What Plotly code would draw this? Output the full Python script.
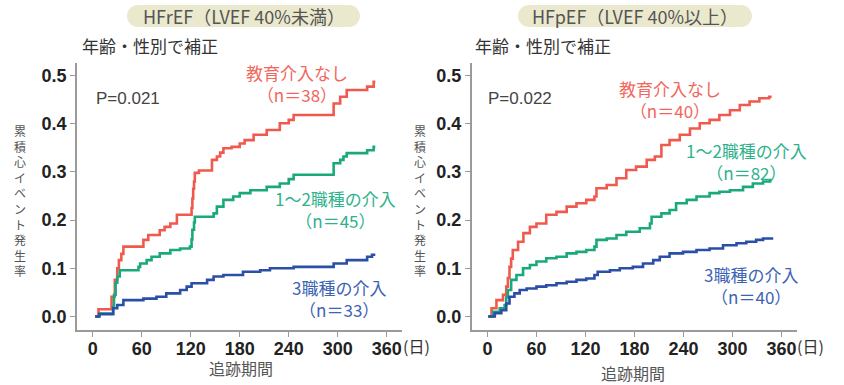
import plotly.graph_objects as go

W, H = 844, 385

# ---- data: cumulative cardiac event rate (adjusted for age and sex) ----
groups = ["教育介入なし", "1～2職種の介入", "3職種の介入"]
colors = ["#f05a4e", "#1aa97c", "#2b4fa6"]
text_colors = ["#f2675c", "#2fb28c", "#3d63b5"]

# HFrEF (LVEF < 40%)
hfref_n = [38, 45, 33]
hfref_p = "P=0.021"
hfref_none_days = [3, 7, 23, 27, 30, 32, 35, 37.5, 62, 68, 82, 88, 95, 103, 121, 122, 123, 124, 125, 130,
                   146, 152, 156, 160, 170, 180, 186, 197, 213, 229, 240, 246, 295, 303, 311, 336, 344, 346]
hfref_none_vals = [0, 0.015, 0.041, 0.076, 0.100, 0.117, 0.130, 0.145, 0.159, 0.169, 0.179, 0.186, 0.193,
                   0.211, 0.225, 0.245, 0.265, 0.280, 0.298, 0.303, 0.325, 0.332, 0.340, 0.349, 0.352,
                   0.359, 0.366, 0.377, 0.387, 0.401, 0.408, 0.418, 0.442, 0.456, 0.470, 0.477, 0.487, 0.487]
hfref_12_days = [3, 8, 25, 26, 28, 30, 33, 56, 58, 66, 72, 82, 95, 107, 119, 121, 122, 124, 125, 148, 152,
                 160, 172, 180, 193, 213, 229, 240, 246, 295, 303, 307, 311, 336, 344, 346]
hfref_12_vals = [0, 0.006, 0.020, 0.045, 0.070, 0.083, 0.096, 0.103, 0.110, 0.117, 0.124, 0.131, 0.138,
                 0.141, 0.145, 0.160, 0.180, 0.195, 0.207, 0.214, 0.228, 0.242, 0.249, 0.256, 0.262,
                 0.269, 0.276, 0.285, 0.294, 0.318, 0.325, 0.332, 0.339, 0.345, 0.352, 0.352]
hfref_3_days = [3, 8, 25, 30, 37.5, 62, 78, 90, 107, 115, 121, 140, 148, 160, 184, 205, 217, 246, 295, 311,
                336, 342, 346]
hfref_3_vals = [0, 0.005, 0.017, 0.024, 0.034, 0.037, 0.041, 0.048, 0.055, 0.062, 0.069, 0.076, 0.083,
                0.086, 0.093, 0.096, 0.100, 0.103, 0.110, 0.117, 0.124, 0.128, 0.128]

# HFpEF (LVEF >= 40%)
hfpef_n = [40, 82, 40]
hfpef_p = "P=0.022"
hfpef_none_days = [1, 5, 11, 19, 23, 25, 27, 29, 31, 37.5, 44, 52, 60, 72, 84.5, 97, 109, 121, 131, 133.5,
                   146, 158, 170, 182, 195, 205, 213, 223, 235.5, 248, 260, 272, 284, 297, 309, 321, 333,
                   345, 348]
hfpef_none_vals = [0, 0.017, 0.034, 0.045, 0.062, 0.080, 0.103, 0.120, 0.138, 0.155, 0.173, 0.186, 0.193,
                   0.211, 0.217, 0.228, 0.235, 0.242, 0.249, 0.266, 0.273, 0.287, 0.304, 0.311, 0.325,
                   0.332, 0.356, 0.366, 0.377, 0.390, 0.401, 0.408, 0.418, 0.428, 0.439, 0.446, 0.453,
                   0.456, 0.456]
hfpef_12_days = [1, 7, 15, 21, 23, 25, 29, 35.5, 43.6, 52, 60, 72, 84.5, 97, 109, 121, 131, 133.5, 146, 158,
                 170, 186.5, 199, 201, 213, 223, 231, 244, 256, 272, 284, 297, 313, 325, 337.5, 346, 348]
hfpef_12_vals = [0, 0.010, 0.017, 0.024, 0.040, 0.055, 0.076, 0.086, 0.100, 0.107, 0.114, 0.121, 0.124,
                 0.131, 0.134, 0.138, 0.145, 0.159, 0.162, 0.169, 0.176, 0.183, 0.193, 0.207, 0.214,
                 0.221, 0.235, 0.242, 0.249, 0.256, 0.259, 0.262, 0.269, 0.276, 0.280, 0.283, 0.283]
hfpef_3_days = [1, 9, 17, 23, 27, 33, 39.5, 48, 60, 72, 84.5, 97, 109, 121, 131, 135, 150, 162, 178, 190.5,
                203, 211, 223, 239.5, 256, 272, 288.5, 305, 317, 329, 337.5, 350]
hfpef_3_vals = [0, 0.007, 0.013, 0.027, 0.041, 0.048, 0.055, 0.058, 0.062, 0.065, 0.069, 0.072, 0.076,
                0.079, 0.086, 0.093, 0.096, 0.100, 0.103, 0.110, 0.117, 0.124, 0.131, 0.134, 0.138,
                0.141, 0.148, 0.152, 0.155, 0.159, 0.162, 0.162]

panel_titles = ["HFrEF（LVEF 40%未満）", "HFpEF（LVEF 40%以上）"]
subtitle = "年齢・性別で補正"
x_title = "追跡期間"
y_title = "累積心イベント発生率"
x_unit = "(日)"
x_ticks = [0, 60, 120, 180, 240, 300, 360]
y_ticks = [0.0, 0.1, 0.2, 0.3, 0.4, 0.5]

panels = [
    dict(series=[(hfref_none_days, hfref_none_vals), (hfref_12_days, hfref_12_vals), (hfref_3_days, hfref_3_vals)],
         n=hfref_n, p=hfref_p),
    dict(series=[(hfpef_none_days, hfpef_none_vals), (hfpef_12_days, hfpef_12_vals), (hfpef_3_days, hfpef_3_vals)],
         n=hfpef_n, p=hfpef_p),
]

# ---- layout helpers (pixel -> paper) ----
def px(x):
    return x / W

def py(y):
    return 1 - y / H

CJK = "Noto Sans CJK JP, Noto Sans, sans-serif"
NUM = "Liberation Sans Narrow, Arial Narrow, Liberation Sans, sans-serif"

panel_px = [(77, 402), (471.7, 796.7)]     # plot area left/right edges in px
plot_top, plot_bottom = 63, 330
# per-panel centre of each two-line group label (px)
label_pos = [
    [(297, 84), (335, 210), (339, 298)],
    [(670, 100), (746, 162), (751, 285)],
]
pill_px = [(127, 360), (518, 752)]
subtitle_px = [150, 543]
p_px = [128, 520]
ytitle_px = [(20, 201), (420, 201)]
xtitle_px = [(241, 368), (633, 373)]
unit_px = [401, 795]

fig = go.Figure()
shapes, annotations = [], []

for i, panel in enumerate(panels):
    sfx = "" if i == 0 else str(i + 1)
    xa, ya = "x" + sfx, "y" + sfx
    for k, (days, vals) in enumerate(panel["series"]):
        fig.add_trace(go.Scatter(
            x=days, y=vals, mode="lines", line=dict(color=colors[k], width=2.6, shape="hv"),
            xaxis=xa, yaxis=ya, showlegend=False, hoverinfo="skip"))

    x0, x1 = panel_px[i]
    axis_common = dict(showgrid=False, zeroline=False, showline=True, linecolor="#9a9a9a", linewidth=1.6,
                       ticks="outside", ticklen=5, tickwidth=1, tickcolor="#9a9a9a")
    tick_font = dict(family=NUM, size=18, color="#222", weight="bold")
    fig.update_layout(**{
        "xaxis" + sfx: dict(domain=[px(x0), px(x1)], range=[-19.3, 378.7], anchor=ya,
                            tickvals=x_ticks, ticktext=[str(t) for t in x_ticks],
                            tickfont=tick_font, ticklabelstandoff=-3, **axis_common),
        "yaxis" + sfx: dict(domain=[py(plot_bottom), py(plot_top)], range=[-0.028, 0.526], anchor=xa,
                            tickvals=y_ticks, ticktext=[f"{t:.1f}" for t in y_ticks],
                            tickfont=tick_font, **axis_common),
    })

    # title pill
    a, b = pill_px[i]
    top, bot = 5, 27
    r = (bot - top) / 2
    pill_fill = "#ebe9cd"
    shapes.append(dict(type="rect", xref="paper", yref="paper", x0=px(a + r), x1=px(b - r),
                       y0=py(bot), y1=py(top), fillcolor=pill_fill, line=dict(width=0), layer="below"))
    for cx in (a + r, b - r):
        shapes.append(dict(type="circle", xref="paper", yref="paper", x0=px(cx - r), x1=px(cx + r),
                           y0=py(bot), y1=py(top), fillcolor=pill_fill, line=dict(width=0), layer="below"))
    annotations.append(dict(text=panel_titles[i], xref="paper", yref="paper", x=px((a + b) / 2), y=py(16.5),
                            showarrow=False, xanchor="center", yanchor="middle",
                            font=dict(family=CJK, size=18, color="#555")))
    annotations.append(dict(text=subtitle, xref="paper", yref="paper", x=px(subtitle_px[i]), y=py(45),
                            showarrow=False, xanchor="center", yanchor="middle",
                            font=dict(family=CJK, size=17, color="#333")))
    annotations.append(dict(text=panel["p"], xref="paper", yref="paper", x=px(p_px[i]), y=py(99),
                            showarrow=False, xanchor="center", yanchor="middle",
                            font=dict(family="Liberation Sans, sans-serif", size=17, color="#444")))
    # group labels: name and sample size on two lines
    for k in range(3):
        lx, ly = label_pos[i][k]
        annotations.append(dict(text=f"{groups[k]}<br>（n＝{panel['n'][k]}）", xref="paper", yref="paper",
                                x=px(lx), y=py(ly), showarrow=False, xanchor="center", yanchor="middle",
                                align="center", font=dict(family=CJK, size=17, color=text_colors[k])))
    # vertical y-axis title, one character per line
    yx, yy = ytitle_px[i]
    annotations.append(dict(text="<br>".join(y_title), xref="paper", yref="paper", x=px(yx), y=py(yy),
                            showarrow=False, xanchor="center", yanchor="middle",
                            font=dict(family=CJK, size=12, color="#555")))
    # x-axis title and unit
    tx, ty = xtitle_px[i]
    annotations.append(dict(text=x_title, xref="paper", yref="paper", x=px(tx), y=py(ty),
                            showarrow=False, xanchor="center", yanchor="middle",
                            font=dict(family=CJK, size=16, color="#555")))
    annotations.append(dict(text=x_unit, xref="paper", yref="paper", x=px(unit_px[i]), y=py(346),
                            showarrow=False, xanchor="left", yanchor="middle",
                            font=dict(family=CJK, size=16, color="#333")))

fig.update_layout(width=W, height=H, margin=dict(l=0, r=0, t=0, b=0),
                  paper_bgcolor="white", plot_bgcolor="white",
                  shapes=shapes, annotations=annotations)

fig.write_html("out.html")
